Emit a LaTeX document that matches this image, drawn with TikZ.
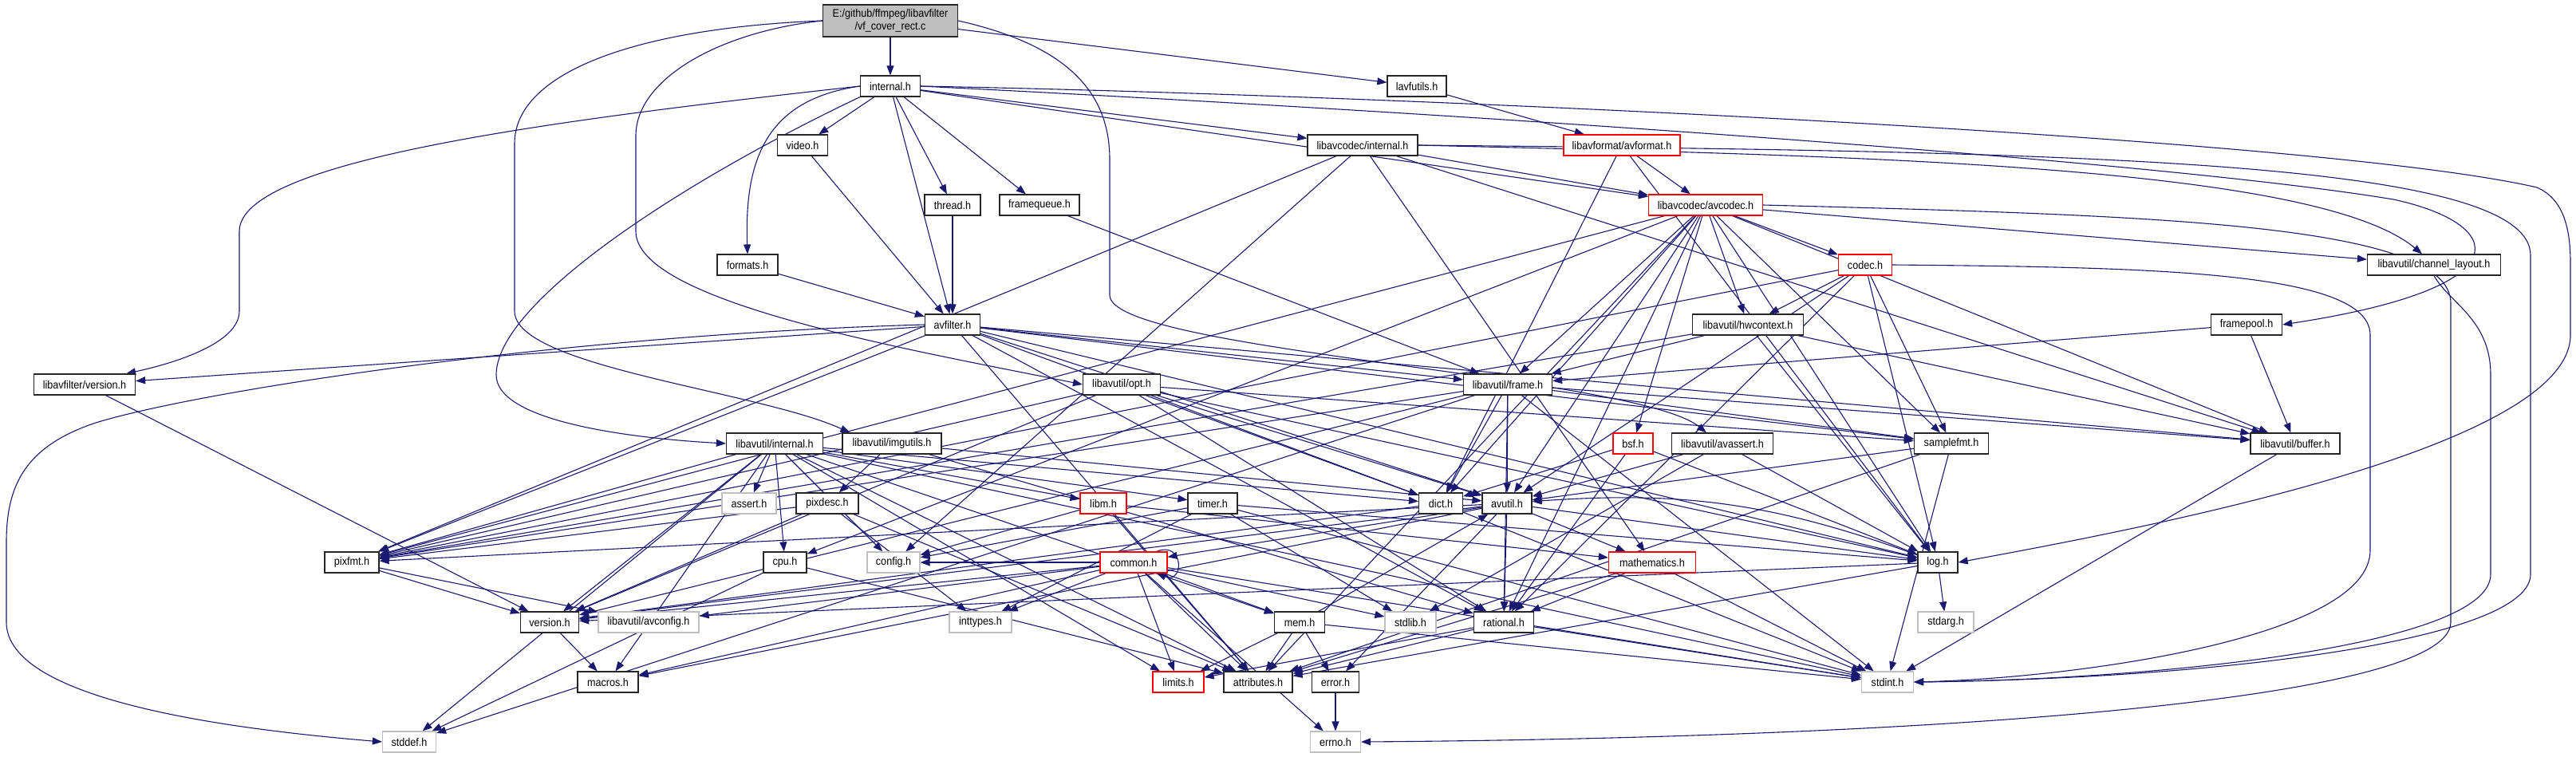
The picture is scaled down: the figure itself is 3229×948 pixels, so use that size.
\documentclass[tikz,border=0pt]{standalone}
\usepackage{fontspec}
\setmainfont{Liberation Sans}[FakeStretch=0.9]
\usetikzlibrary{arrows.meta,backgrounds}
\definecolor{navy}{HTML}{191970}
\definecolor{sysgray}{HTML}{BFBFBF}
\tikzset{
  hdr/.style   = {rectangle, draw=black!85, fill=white, line width=1.2pt,
                  minimum height=26pt, inner sep=0pt,
                  font=\fontsize{14}{16}\selectfont},
  sysh/.style  = {hdr, draw=sysgray},
  trunc/.style = {hdr, draw=red},
  inc/.style   = {-{Triangle[length=12pt,width=9pt]}, draw=navy, line width=1.1pt}
}

\begin{document}
\begin{tikzpicture}[x=1pt,y=-1pt]
  \useasboundingbox (0,0) rectangle (3229,948);

  % rank 0-5
  \node[hdr, fill=sysgray, minimum width=169pt, minimum height=40pt, align=center]
       (root) at (1116,26) {E:/github/ffmpeg/libavfilter\\/vf\_cover\_rect.c};
  \node[hdr, minimum width=75pt]    (internalh)    at (1116,108) {internal.h};
  \node[hdr, minimum width=74pt]    (lavfutils)    at (1776,108) {lavfutils.h};
  \node[hdr, minimum width=63pt]    (video)        at (1006,182) {video.h};
  \node[hdr, minimum width=138pt]   (lavcinternal) at (1708,182) {libavcodec/internal.h};
  \node[trunc, minimum width=146pt] (avformat)     at (2033,182) {libavformat/avformat.h};
  \node[hdr, minimum width=70pt]    (thread)       at (1194,257) {thread.h};
  \node[hdr, minimum width=100pt]   (framequeue)   at (1303,257) {framequeue.h};
  \node[trunc, minimum width=143pt] (avcodec)      at (2138,257) {libavcodec/avcodec.h};
  \node[hdr, minimum width=76pt]    (formats)      at (937,332)  {formats.h};
  \node[trunc, minimum width=67pt]  (codec)        at (2338,332) {codec.h};
  \node[hdr, minimum width=167pt]   (chlayout)     at (3051,332) {libavutil/channel\_layout.h};
  \node[hdr, minimum width=69pt]    (avfilter)     at (1194,407) {avfilter.h};
  \node[hdr, minimum width=139pt]   (hwcontext)    at (2191,407) {libavutil/hwcontext.h};
  \node[hdr, minimum width=89pt]    (framepool)    at (2816,407) {framepool.h};

  % rank 6-8
  \node[hdr, minimum width=127pt]   (lavfiversion) at (106,482)  {libavfilter/version.h};
  \node[hdr, minimum width=97pt]    (opt)          at (1406,482) {libavutil/opt.h};
  \node[hdr, minimum width=111pt]   (frame)        at (1890,482) {libavutil/frame.h};
  \node[hdr, minimum width=121pt]   (lavuinternal) at (971,556)  {libavutil/internal.h};
  \node[hdr, minimum width=124pt]   (imgutils)     at (1118,556) {libavutil/imgutils.h};
  \node[trunc, minimum width=50pt]  (bsf)          at (2047,556) {bsf.h};
  \node[hdr, minimum width=127pt]   (avassert)     at (2159,556) {libavutil/avassert.h};
  \node[hdr, minimum width=93pt]    (samplefmt)    at (2446,556) {samplefmt.h};
  \node[hdr, minimum width=112pt]   (buffer)       at (2877,556) {libavutil/buffer.h};
  \node[sysh, minimum width=68pt]   (assert)       at (939,631)  {assert.h};
  \node[hdr, minimum width=78pt]    (pixdesc)      at (1037,631) {pixdesc.h};
  \node[trunc, minimum width=58pt]  (libm)         at (1383,631) {libm.h};
  \node[hdr, minimum width=62pt]    (timer)        at (1520,631) {timer.h};
  \node[hdr, minimum width=55pt]    (dict)         at (1806,631) {dict.h};
  \node[hdr, minimum width=62pt]    (avutil)       at (1889,631) {avutil.h};

  % rank 9-12
  \node[hdr, minimum width=68pt]    (pixfmt)       at (441,705)  {pixfmt.h};
  \node[hdr, minimum width=54pt]    (cpu)          at (984,705)  {cpu.h};
  \node[sysh, minimum width=66pt]   (config)       at (1120,705) {config.h};
  \node[trunc, minimum width=84pt]  (common)       at (1421,705) {common.h};
  \node[trunc, minimum width=109pt] (mathematics)  at (2071,705) {mathematics.h};
  \node[hdr, minimum width=50pt]    (log)          at (2429,705) {log.h};
  \node[hdr, minimum width=73pt]    (version)      at (689,780)  {version.h};
  \node[sysh, minimum width=126pt]  (avconfig)     at (813,780)  {libavutil/avconfig.h};
  \node[sysh, minimum width=78pt]   (inttypes)     at (1229,780) {inttypes.h};
  \node[hdr, minimum width=63pt]    (mem)          at (1629,780) {mem.h};
  \node[sysh, minimum width=64pt]   (stdlib)       at (1768,780) {stdlib.h};
  \node[hdr, minimum width=75pt]    (rational)     at (1885,780) {rational.h};
  \node[sysh, minimum width=70pt]   (stdarg)       at (2439,780) {stdarg.h};
  \node[hdr, minimum width=76pt]    (macros)       at (762,855)  {macros.h};
  \node[trunc, minimum width=64pt]  (limits)       at (1477,855) {limits.h};
  \node[hdr, minimum width=86pt]    (attributes)   at (1577,855) {attributes.h};
  \node[hdr, minimum width=59pt]    (error)        at (1674,855) {error.h};
  \node[sysh, minimum width=65pt]   (stdint)       at (2366,855) {stdint.h};
  \node[sysh, minimum width=67pt]   (stddef)       at (513,930)  {stddef.h};
  \node[sysh, minimum width=63pt]   (errno)        at (1674,930) {errno.h};

  \begin{scope}[on background layer]
  % include edges
  \foreach \a/\b in {root/internalh, root/lavfutils,
      internalh/avfilter, internalh/framequeue, internalh/thread, internalh/video,
      internalh/avcodec, internalh/lavcinternal,
      lavfutils/avformat, video/avfilter, thread/avfilter, framequeue/frame, formats/avfilter,
      lavcinternal/buffer, lavcinternal/mathematics, lavcinternal/pixfmt,
      lavcinternal/avcodec, lavcinternal/config,
      avformat/avcodec, avformat/dict, avformat/log,
      avcodec/samplefmt, avcodec/attributes, avcodec/avutil, avcodec/buffer, avcodec/cpu,
      avcodec/chlayout, avcodec/dict, avcodec/frame, avcodec/hwcontext, avcodec/log,
      avcodec/pixfmt, avcodec/rational, avcodec/bsf, avcodec/codec,
      codec/avutil, codec/hwcontext, codec/log, codec/pixfmt, codec/rational, codec/samplefmt,
      avfilter/attributes, avfilter/avutil, avfilter/buffer, avfilter/dict, avfilter/frame,
      avfilter/log, avfilter/samplefmt, avfilter/pixfmt, avfilter/rational, avfilter/lavfiversion,
      hwcontext/buffer, hwcontext/frame, hwcontext/log, hwcontext/pixfmt,
      framepool/buffer, framepool/frame, lavfiversion/version,
      opt/rational, opt/avutil, opt/dict, opt/log, opt/pixfmt, opt/samplefmt, opt/version,
      frame/stddef, frame/stdint, frame/avutil, frame/buffer, frame/dict, frame/rational,
      frame/samplefmt, frame/pixfmt, frame/version,
      lavuinternal/limits, lavuinternal/stdint, lavuinternal/stddef, lavuinternal/assert,
      lavuinternal/config, lavuinternal/attributes, lavuinternal/timer, lavuinternal/cpu,
      lavuinternal/dict, lavuinternal/macros, lavuinternal/mem, lavuinternal/pixfmt,
      lavuinternal/version, lavuinternal/libm,
      imgutils/avutil, imgutils/pixdesc, imgutils/rational,
      bsf/dict, bsf/log, bsf/rational,
      avassert/stdlib, avassert/avutil, avassert/log,
      samplefmt/stdint, samplefmt/avutil, samplefmt/attributes, buffer/stdint,
      pixdesc/inttypes, pixdesc/attributes, pixdesc/pixfmt, pixdesc/version,
      libm/config, libm/attributes, libm/mathematics,
      timer/stdlib, timer/stdint, timer/inttypes, timer/config, timer/log,
      dict/stdint, dict/version,
      avutil/common, avutil/error, avutil/rational, avutil/version, avutil/macros,
      avutil/mathematics, avutil/log, avutil/pixfmt,
      cpu/stddef, cpu/attributes,
      common/errno, common/inttypes, common/limits, common/stdint, common/stdlib,
      common/attributes, common/macros, common/version, common/avconfig, common/config, common/mem,
      mathematics/stdint, mathematics/attributes, mathematics/rational,
      log/stdarg, log/attributes, log/version,
      pixfmt/avconfig, pixfmt/version, version/macros,
      mem/limits, mem/stdint, mem/attributes, mem/error, mem/avutil,
      rational/stdint, rational/limits, rational/attributes, error/errno}
    \draw[inc] (\a) -- (\b);

  % routed edges
  \draw[inc] (root.west) .. controls (800,35) and (645,90) .. (645,180) -- (645,390)
             .. controls (645,460) and (950,490) .. ([xshift=10pt]imgutils.north west);
  \draw[inc] (root.west) .. controls (900,40) and (797,100) .. (797,170) -- (797,290)
             .. controls (797,380) and (1150,440) .. (opt.west);
  \draw[inc] (root.east) .. controls (1330,55) and (1391,110) .. (1391,200) -- (1391,370)
             .. controls (1391,440) and (2050,470) .. ([xshift=-20pt]avassert.north);
  \draw[inc] (internalh.west) .. controls (700,150) and (300,200) .. (300,290) -- (300,390)
             .. controls (300,430) and (220,455) .. ([xshift=-12pt]lavfiversion.north east);
  \draw[inc] (internalh.south west) .. controls (850,230) and (622,380) .. (622,470)
             .. controls (622,530) and (800,550) .. (lavuinternal.west);
  \draw[inc] (internalh.west) .. controls (960,125) and (933,200) .. (formats.north);
  \draw[inc] (internalh.east) .. controls (1700,118) and (2900,170) .. (3180,235)
             .. controls (3215,250) and (3222,290) .. (3222,330) -- (3222,420)
             .. controls (3222,560) and (2700,660) .. (log.east);
  \draw[inc] (internalh.east) .. controls (1800,140) and (2700,200) .. (3000,250)
             .. controls (3140,280) and (3170,360) .. (framepool.east);
  \draw[inc] (lavcinternal.east) .. controls (2300,195) and (2900,205) .. ([xshift=-15pt]chlayout.north);
  \draw[inc] (lavcinternal.east) .. controls (2600,190) and (3172,200) .. (3172,320) -- (3172,720)
             .. controls (3172,800) and (2800,850) .. (stdint.east);
  \draw[inc] (codec.east) .. controls (2700,335) and (2971,340) .. (2971,420) -- (2971,690)
             .. controls (2971,800) and (2600,850) .. (stdint.east);
  \draw[inc] (chlayout.south) .. controls (3070,380) and (3122,400) .. (3122,470) -- (3122,720)
             .. controls (3122,810) and (2700,852) .. (stdint.east);
  \draw[inc] (avcodec.east) .. controls (2700,270) and (3072,280) .. (3072,380) -- (3072,780)
             .. controls (3072,880) and (2400,925) .. (errno.east);
  \draw[inc] (avfilter.west) .. controls (700,420) and (250,490) .. (120,530)
             .. controls (30,560) and (8,610) .. (8,680) -- (8,780)
             .. controls (8,880) and (300,915) .. (stddef.west);
  \draw[inc] ([xshift=-14pt]common.north east) .. controls +(35pt,14pt) and +(35pt,-14pt)
             .. ([xshift=-14pt]common.south east);
  \draw[inc] (log) to[bend right=12] (avutil);
  \end{scope}
\end{tikzpicture}
\end{document}
